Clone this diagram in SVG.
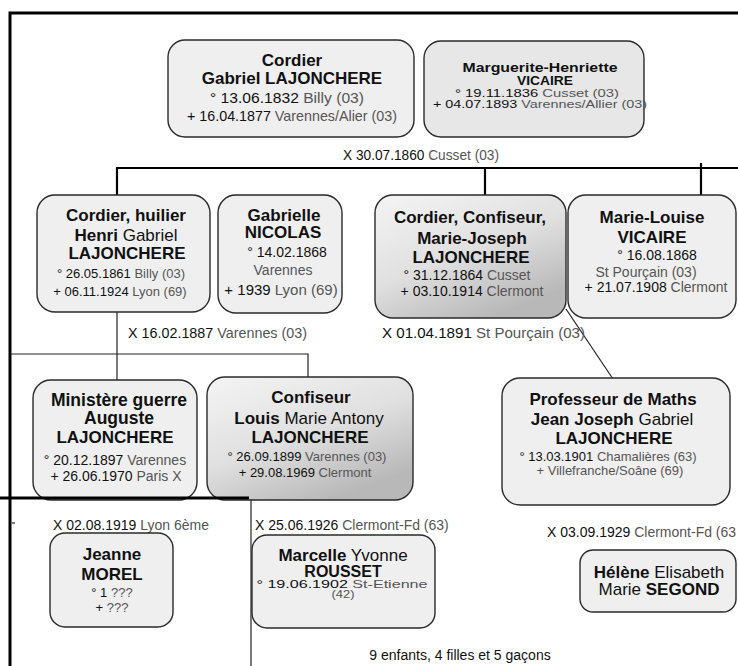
<svg xmlns="http://www.w3.org/2000/svg" width="738" height="666" viewBox="0 0 738 666">
<defs>
<linearGradient id="grad" x1="0" y1="0" x2="0.6" y2="1">
<stop offset="0" stop-color="#f4f4f4"/>
<stop offset="0.55" stop-color="#e0e0e0"/>
<stop offset="1" stop-color="#b8b8b8"/>
</linearGradient>
</defs>
<style>
text{font-family:"Liberation Sans",Arial,sans-serif;fill:#111;text-anchor:middle;font-size:14px}
.b{font-weight:bold;font-size:17px}
.n{font-size:17px}
.d13{font-size:13px}
.d11{font-size:10.5px}
.d15{font-size:15px}
.g{fill:#555}
.m{text-anchor:start}
.box{fill:#efefef;stroke:#2a2a2a;stroke-width:1.4}
.box2{fill:#e7e7e7;stroke:#2a2a2a;stroke-width:1.4}
.gbox{fill:url(#grad);stroke:#2a2a2a;stroke-width:1.4}
.thick{stroke:#000;stroke-width:3;fill:none}
.med{stroke:#000;stroke-width:2.2;fill:none}
.thin{stroke:#222;stroke-width:1.2;fill:none}
</style>
<rect width="738" height="666" fill="#fff"/>
<g id="connectors">
<path class="thick" d="M10,666 V13 H738"/>
<path class="med" d="M116,168 H738 M117,168 V196 M485,168 V196 M701,163 V196"/>
<path class="thin" d="M117,311 V381 M10,354 H308 V378"/>
<path class="thin" d="M566,309 L613,379"/>
<path class="thin" d="M251,498 V666"/>
<path class="thin" d="M12,523 H15"/>
</g>
<g id="n-gabriel">
<rect class="box" x="168" y="40" width="246" height="97" rx="17"/>
<text class="b" x="292" y="66">Cordier</text>
<text class="b" x="292" y="84">Gabriel LAJONCHERE</text>
<text class="d15" x="287" y="103" textLength="154" lengthAdjust="spacingAndGlyphs">° 13.06.1832 <tspan class="g">Billy (03)</tspan></text>
<text class="d15" x="292" y="121" textLength="210" lengthAdjust="spacingAndGlyphs">+ 16.04.1877 <tspan class="g">Varennes/Alier (03)</tspan></text>
</g>
<g id="n-marguerite">
<rect class="box2" x="424" y="41" width="220" height="96" rx="17"/>
<text class="b" x="540" y="72" style="font-size:12px" textLength="155" lengthAdjust="spacingAndGlyphs">Marguerite-Henriette</text>
<text class="b" x="545" y="85" style="font-size:12px" textLength="56" lengthAdjust="spacingAndGlyphs">VICAIRE</text>
<text class="d11" x="537" y="97" textLength="164" lengthAdjust="spacingAndGlyphs">° 19.11.1836 <tspan class="g">Cusset (03)</tspan></text>
<text class="d11" x="540" y="108" textLength="214" lengthAdjust="spacingAndGlyphs">+ 04.07.1893  <tspan class="g">Varennes/Allier (03)</tspan></text>
</g>
<text x="421" y="160" textLength="156" lengthAdjust="spacingAndGlyphs">X 30.07.1860 <tspan class="g">Cusset (03)</tspan></text>
<g id="n-henri">
<rect class="box" x="37" y="195" width="173" height="117" rx="18"/>
<text class="b" x="126" y="221">Cordier, huilier</text>
<text class="n" x="126" y="241"><tspan font-weight="bold">Henri</tspan> Gabriel</text>
<text class="b" x="127" y="259">LAJONCHERE</text>
<text class="d13" x="121" y="278">° 26.05.1861 <tspan class="g">Billy (03)</tspan></text>
<text class="d13" x="120" y="296">+ 06.11.1924 <tspan class="g">Lyon (69)</tspan></text>
</g>
<g id="n-gabrielle">
<rect class="box" x="218" y="195" width="124" height="118" rx="18"/>
<text class="b" x="284" y="221">Gabrielle</text>
<text class="b" x="283" y="238">NICOLAS</text>
<text x="287" y="257">° 14.02.1868</text>
<text class="g" x="283" y="275">Varennes</text>
<text x="281" y="295" style="font-size:15px">+ 1939 <tspan class="g">Lyon (69)</tspan></text>
</g>
<g id="n-mariejoseph">
<rect class="gbox" x="375" y="195" width="191" height="123" rx="18"/>
<text class="b" x="470" y="223">Cordier, Confiseur,</text>
<text class="b" x="472" y="244">Marie-Joseph</text>
<text class="b" x="471" y="263">LAJONCHERE</text>
<text x="467" y="280">° 31.12.1864 <tspan class="g">Cusset</tspan></text>
<text x="472" y="296">+ 03.10.1914 <tspan class="g">Clermont</tspan></text>
</g>
<g id="n-marielouise">
<rect class="box" x="568" y="195" width="168" height="123" rx="18"/>
<text class="b" x="652" y="223">Marie-Louise</text>
<text class="b" x="652" y="243">VICAIRE</text>
<text x="657" y="260">° 16.08.1868</text>
<text class="g" x="646" y="277">St Pourçain (03)</text>
<text x="656" y="292">+ 21.07.1908 <tspan class="g">Clermont</tspan></text>
</g>
<text class="m" x="128" y="338" textLength="179" lengthAdjust="spacingAndGlyphs">X 16.02.1887 <tspan class="g">Varennes (03)</tspan></text>
<text class="m" x="382" y="338" textLength="203" lengthAdjust="spacingAndGlyphs">X  01.04.1891 <tspan class="g">St Pourçain (03)</tspan></text>
<g id="n-auguste">
<rect class="box" x="33" y="380" width="164" height="120" rx="18"/>
<text class="b" x="119" y="406" style="font-size:17.5px">Ministère guerre</text>
<text class="b" x="119" y="424" style="font-size:17.5px">Auguste</text>
<text class="b" x="115" y="443">LAJONCHERE</text>
<text x="115" y="465">° 20.12.1897 <tspan class="g">Varennes</tspan></text>
<text x="116" y="481">+ 26.06.1970 <tspan class="g">Paris X</tspan></text>
</g>
<g id="n-louis">
<rect class="gbox" x="207" y="377" width="206" height="123" rx="18"/>
<text class="b" x="311" y="403">Confiseur</text>
<text class="n" x="309" y="424"><tspan font-weight="bold">Louis</tspan> Marie Antony</text>
<text class="b" x="310" y="443">LAJONCHERE</text>
<text class="d13" x="307" y="461">° 26.09.1899 <tspan class="g">Varennes (03)</tspan></text>
<text class="d13" x="305" y="477">+ 29.08.1969 <tspan class="g">Clermont</tspan></text>
</g>
<path class="thick" d="M0,498 H249"/>
<g id="n-jeanjoseph">
<rect class="box" x="502" y="378" width="228" height="127" rx="18"/>
<text class="b" x="613" y="405">Professeur de Maths</text>
<text class="n" x="612" y="425"><tspan font-weight="bold">Jean Joseph</tspan> Gabriel</text>
<text class="b" x="614" y="444">LAJONCHERE</text>
<text class="d13" x="608" y="461">° 13.03.1901 <tspan class="g">Chamalières (63)</tspan></text>
<text class="d13 g" x="610" y="475">+ Villefranche/Soâne (69)</text>
</g>
<text class="m" x="53" y="530">X 02.08.1919 <tspan class="g">Lyon 6ème</tspan></text>
<g id="n-jeanne">
<rect class="box" x="50" y="533" width="123" height="94" rx="15"/>
<text class="b" x="112" y="560">Jeanne</text>
<text class="b" x="112" y="580">MOREL</text>
<text class="d13" x="112" y="597">° 1 <tspan class="g">???</tspan></text>
<text class="d13" x="112" y="612">+ <tspan class="g">???</tspan></text>
</g>
<text class="m" x="255" y="530">X 25.06.1926 <tspan class="g">Clermont-Fd  (63)</tspan></text>
<g id="n-marcelle">
<rect class="box" x="252" y="535" width="183" height="93" rx="15"/>
<text class="n" x="343" y="561"><tspan font-weight="bold">Marcelle</tspan> Yvonne</text>
<text class="b" x="343" y="577" style="font-size:16px">ROUSSET</text>
<text class="d11" x="342" y="588" textLength="171" lengthAdjust="spacingAndGlyphs">° 19.06.1902 <tspan class="g">St-Etienne</tspan></text>
<text class="d11 g" x="343" y="598" textLength="23" lengthAdjust="spacingAndGlyphs">(42)</text>
</g>
<text class="m" x="547" y="537">X 03.09.1929 <tspan class="g">Clermont-Fd  (63</tspan></text>
<g id="n-helene">
<rect class="box" x="580" y="550" width="156" height="62" rx="13"/>
<text class="n" x="659" y="578"><tspan font-weight="bold">Hélène</tspan> Elisabeth</text>
<text class="n" x="659" y="595">Marie <tspan font-weight="bold">SEGOND</tspan></text>
</g>
<text x="460" y="660">9 enfants, 4 filles et 5 gaçons</text>
</svg>
